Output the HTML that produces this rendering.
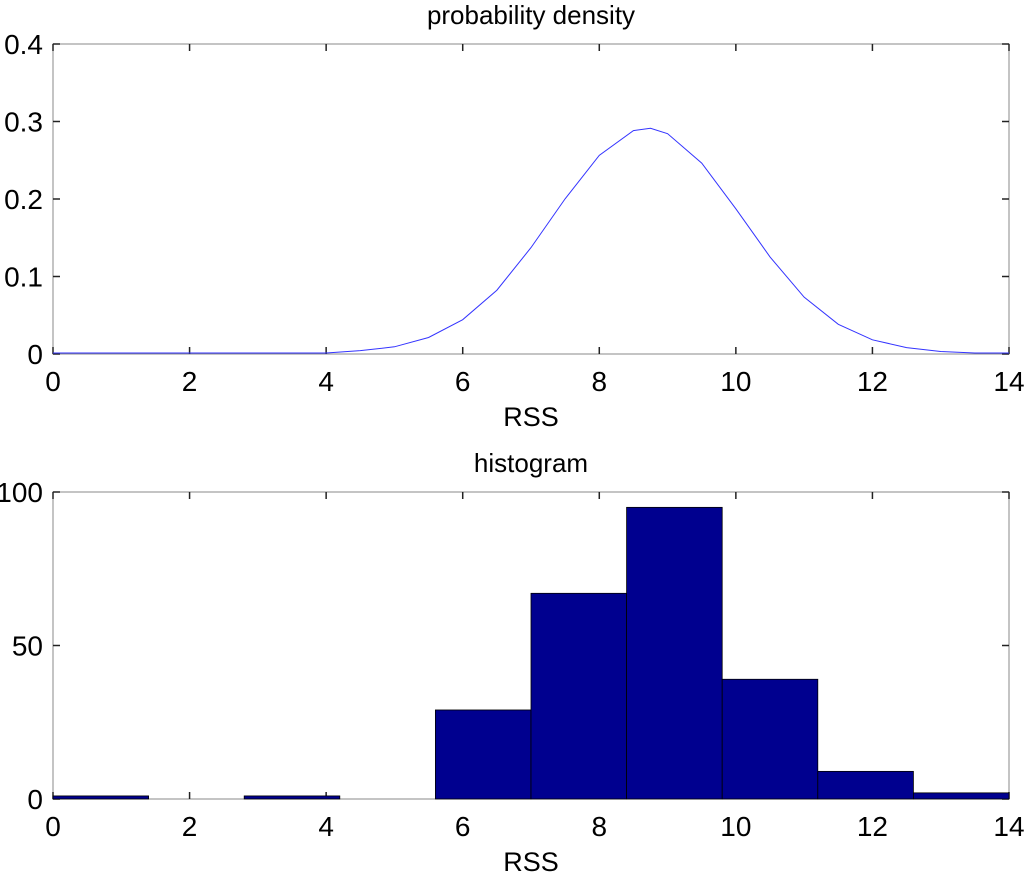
<!DOCTYPE html>
<html><head><meta charset="utf-8"><style>
body{margin:0;background:#fff;}
svg{display:block;font-family:"Liberation Sans",sans-serif;}
</style></head><body>
<svg id="c" width="1024" height="873"></svg>
<script>
const pdfX=[0,4.0,4.5,5,5.5,6,6.5,7,7.5,8,8.5,8.75,9,9.5,10,10.5,11,11.5,12,12.5,13,13.5,14];
const pdfY=[0,0,0.003,0.008,0.020,0.043,0.081,0.136,0.199,0.255,0.287,0.290,0.283,0.245,0.186,0.124,0.072,0.037,0.017,0.007,0.002,0,0];
const binEdges=[0,1.4,2.8,4.2,5.6,7.0,8.4,9.8,11.2,12.6,14];
const counts=[1,0,1,0,29,67,95,39,9,2];
const xTicks=[0,2,4,6,8,10,12,14];
const yTicksTop=[0,0.1,0.2,0.3,0.4];
const yTickLabelsTop=["0","0.1","0.2","0.3","0.4"];
const yTicksBot=[0,50,100];
const NS="http://www.w3.org/2000/svg";
const svg=document.getElementById('c');
function mk(t,a,p){const e=document.createElementNS(NS,t);for(const k in a)e.setAttribute(k,a[k]);(p||svg).appendChild(e);return e;}
const L=53,R=1009;
const sx=v=>L+(v/14)*(R-L);
function axes(top,bot,ymax,yt,ylab,name,title){
  const g=mk('g',{});
  
  
  const sy=v=>bot-(v/ymax)*(bot-top);
  mk('rect',{x:L,y:top,width:R-L,height:bot-top,fill:'#fff',stroke:'#888','stroke-width':1},g);
  xTicks.forEach(v=>{const x=sx(v);
    mk('line',{x1:x,y1:bot,x2:x,y2:bot-7,stroke:'#222','stroke-width':1.5},g);
    mk('line',{x1:x,y1:top,x2:x,y2:top+7,stroke:'#222','stroke-width':1.5},g);
    const t=mk('text',{x:x,y:bot+37,'text-anchor':'middle','font-size':28,fill:'#000'},g);t.textContent=v;
    
    });
  yt.forEach((v,i)=>{const y=sy(v);
    mk('line',{x1:L,y1:y,x2:L+7,y2:y,stroke:'#222','stroke-width':1.5},g);
    mk('line',{x1:R,y1:y,x2:R-7,y2:y,stroke:'#222','stroke-width':1.5},g);
    const t=mk('text',{x:43,y:y+10,'text-anchor':'end','font-size':28,fill:'#000'},g);t.textContent=ylab[i];
    
    });
  const tt=mk('text',{x:531,y:top-20,'text-anchor':'middle','font-size':26,fill:'#000'},g);tt.textContent=title;
  
  
  const xl=mk('text',{x:531,y:bot+72,'text-anchor':'middle','font-size':27,fill:'#000'},g);xl.textContent='RSS';
  
  
  return sy;
}
const syT=axes(44,354,0.4,yTicksTop,yTickLabelsTop,'pdf-axes','probability density');
const pl=mk('polyline',{points:pdfX.map((x,i)=>sx(x)+','+(syT(pdfY[i])-1)).join(' '),fill:'none',stroke:'#3333ff','stroke-width':1});


const syB=axes(492,799,100,yTicksBot,yTicksBot.map(String),'histogram-axes','histogram');
counts.forEach((c,i)=>{if(c<=0)return;
  const x0=sx(binEdges[i]),x1=sx(binEdges[i+1]);
  const r=mk('rect',{x:x0,y:syB(c),width:x1-x0,height:syB(0)-syB(c),fill:'#00008f',stroke:'#000','stroke-width':0.8});
  
  });
</script>
</body></html>
